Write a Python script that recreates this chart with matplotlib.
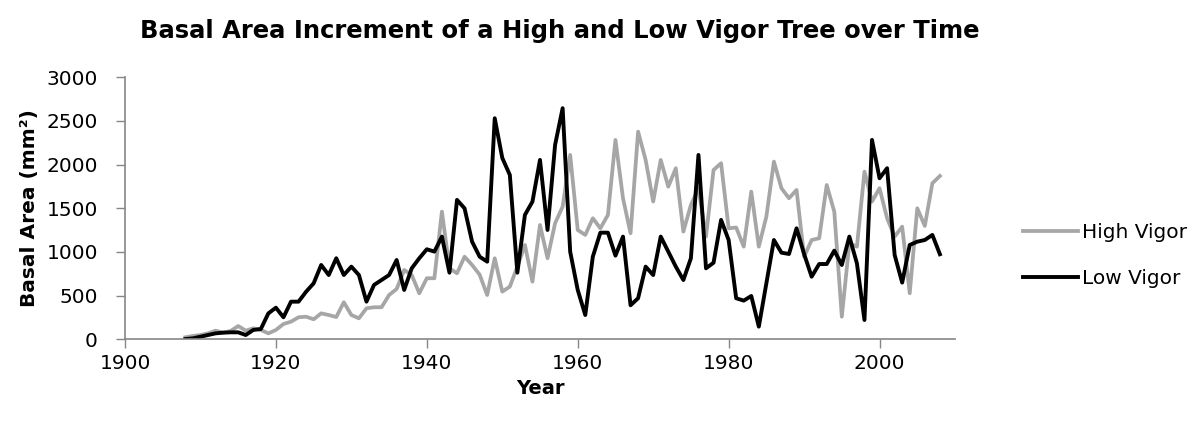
import matplotlib
matplotlib.use("Agg")
import matplotlib.pyplot as plt

years = list(range(1908, 2009))
high_vigor = [23, 38, 49, 68, 99, 76, 95, 152, 99, 126, 107, 68, 107, 175, 202, 252, 259, 229, 297, 278,
              255, 424, 278, 240, 355, 367, 367, 507, 576, 794, 736, 527, 699, 699, 1462, 813, 756, 946, 851, 740,
              507, 928, 546, 603, 832, 1080, 660, 1309, 928, 1329, 1519, 2111, 1252, 1195, 1386, 1271, 1424, 2283, 1615, 1214,
              2378, 2054, 1577, 2054, 1748, 1959, 1233, 1539, 1730, 1176, 1939, 2016, 1271, 1280, 1061, 1691, 1061, 1405, 2035, 1730,
              1615, 1710, 946, 1137, 1157, 1767, 1462, 259, 1099, 1061, 1920, 1577, 1730, 1386, 1176, 1290, 527, 1500, 1298, 1787,
              1870]
low_vigor = [3, 11, 30, 49, 68, 76, 80, 80, 49, 107, 118, 297, 362, 252, 431, 431, 545, 641, 851, 736,
             928, 736, 832, 736, 431, 622, 679, 736, 908, 565, 813, 928, 1031, 1004, 1176, 763, 1596, 1500, 1118, 946,
             889, 2531, 2077, 1882, 763, 1424, 1577, 2054, 1252, 2226, 2646, 1003, 565, 278, 946, 1221, 1221, 958, 1176, 390,
             470, 832, 736, 1176, 1004, 832, 679, 928, 2111, 813, 877, 1367, 1137, 470, 443, 496, 145, 641, 1137, 992,
             977, 1271, 977, 717, 862, 862, 1015, 851, 1176, 870, 221, 2283, 1844, 1959, 966, 649, 1080, 1118, 1137, 1195,
             974]
x_ticks = [1900, 1920, 1940, 1960, 1980, 2000]
y_ticks = [0, 500, 1000, 1500, 2000, 2500, 3000]

plt.rcParams['font.family'] = ['DejaVu Sans']

W, H = 1195, 423
fig = plt.figure(figsize=(W / 100, H / 100), dpi=100)
ax = fig.add_axes([125 / W, 1 - 339.3 / H, 830 / W, 262 / H])

gray = '#A6A6A6'
ax.plot(years, high_vigor, color=gray, lw=2.7, solid_joinstyle='round', label='High Vigor')
ax.plot(years, low_vigor, color='black', lw=2.8, solid_joinstyle='round', label='Low Vigor')

ax.set_xlim(1900, 2010)
ax.set_ylim(0, 3000)
ax.set_xticks(x_ticks)
ax.set_yticks(y_ticks)
ax.tick_params(axis='both', direction='out', length=6.5, width=1, color='#868686',
               labelsize=14.5, labelcolor='black')
ax.tick_params(axis='x', pad=4)
ax.tick_params(axis='y', pad=13)
for s in ['top', 'right']:
    ax.spines[s].set_visible(False)
for s in ['left', 'bottom']:
    ax.spines[s].set_color('#868686')
    ax.spines[s].set_linewidth(1.2)

ax.set_xlabel('Year', fontsize=14, fontweight='bold', va='center')
ax.xaxis.set_label_coords(0.5, (339.3 - 388) / 262)
ax.set_ylabel('Basal Area (mm²)', fontsize=14.5, fontweight='bold', va='center')
ax.yaxis.set_label_coords((30 - 125) / 830, 0.5)

fig.text(560 / W, 1 - 31 / H, 'Basal Area Increment of a High and Low Vigor Tree over Time',
         ha='center', va='center', fontsize=17.5, fontweight='bold')

leg = ax.legend(loc='center left', bbox_to_anchor=(1023 / W, 1 - 255.5 / H),
                bbox_transform=fig.transFigure, frameon=False, borderpad=0, borderaxespad=0,
                fontsize=14.5, handlelength=2.75, handletextpad=0.2, labelspacing=1.35)

fig.savefig('out.png', dpi=100)
